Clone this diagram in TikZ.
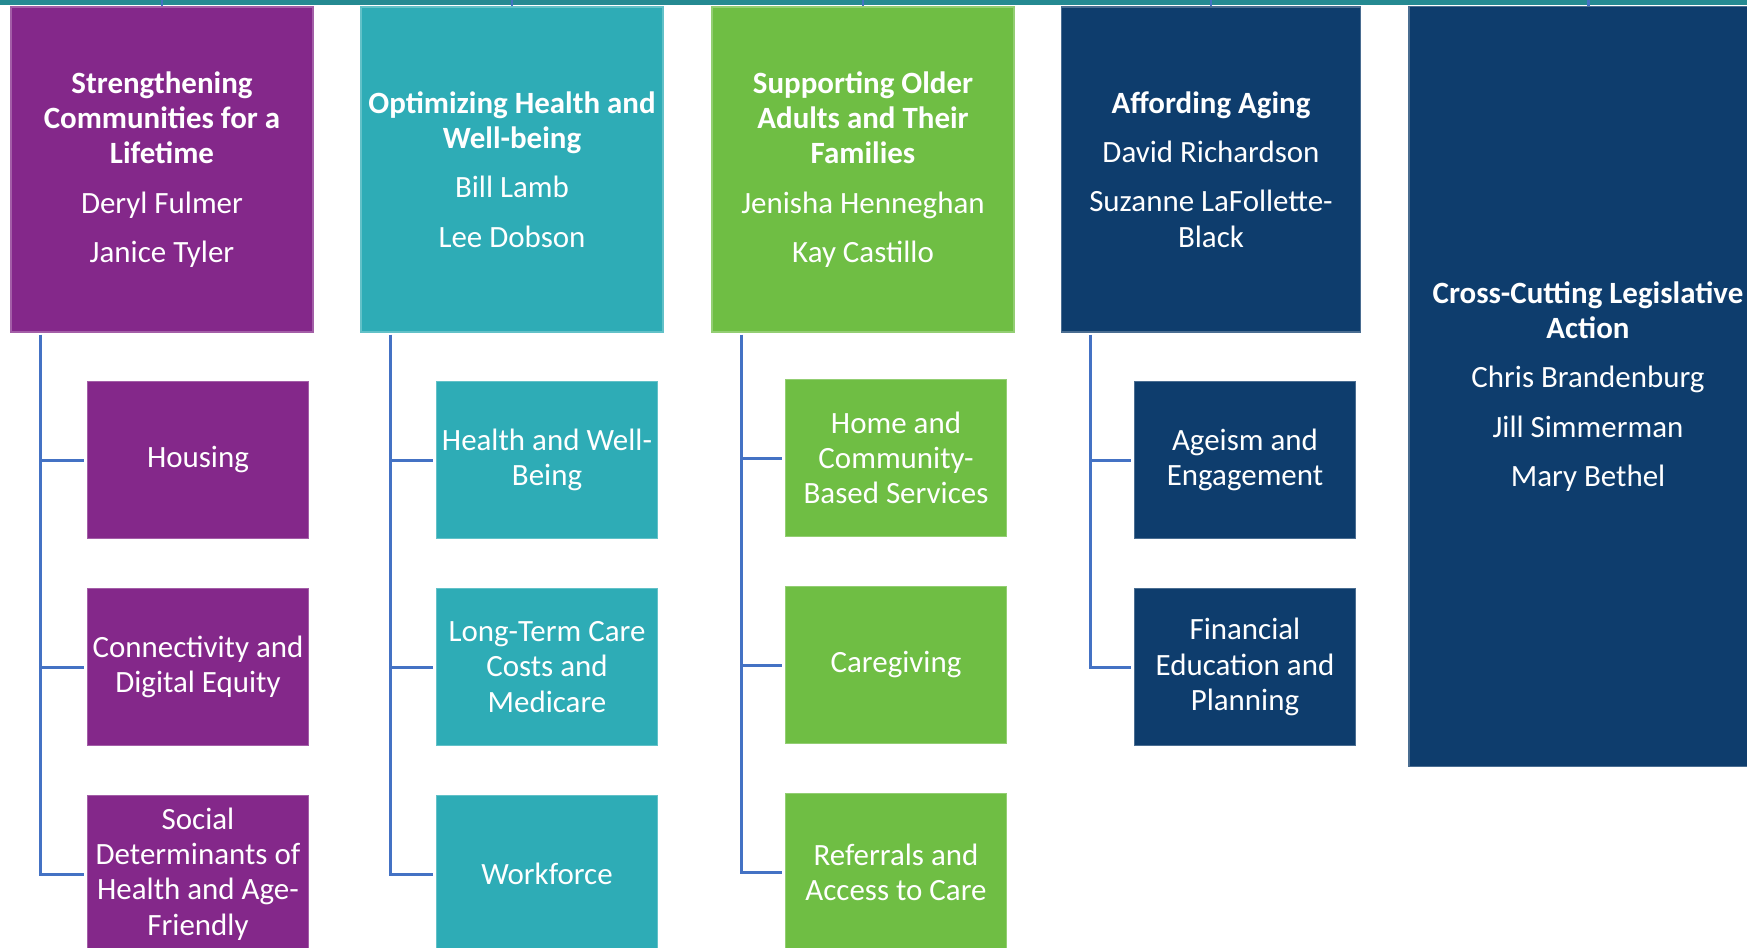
\documentclass[tikz,border=0pt]{standalone}
\usepackage{fontspec}
\setmainfont{Carlito}
\usetikzlibrary{calc}

\definecolor{plum}{HTML}{84288A}
\definecolor{aqua}{HTML}{2EACB6}
\definecolor{leaf}{HTML}{6FBE44}
\definecolor{navy}{HTML}{0E3D6D}
\definecolor{link}{HTML}{4472C4}

\tikzset{
    card/.style={rectangle, fill=#1, draw=#1!75!white, line width=0.4pt, text=white,
        align=center, inner sep=0pt, font=\fontsize{8.8}{10}\selectfont},
    head/.style={card=#1, minimum width=3.02cm, minimum height=3.25cm},
    topic/.style={card=#1, minimum width=2.21cm, minimum height=1.57cm},
    branch/.style={link, line width=0.85pt}
}

\begin{document}
\begin{tikzpicture}[x=0.01cm, y=-0.01cm]
            \useasboundingbox (0,0) rectangle (1747,948);
            \clip (0,0) rectangle (1747,948);

            % committee heads
            \node (comm) at (162,169.5) [head=plum]
                {\textbf{Strengthening}\\\textbf{Communities for a}\\\textbf{Lifetime}\\[4pt]Deryl Fulmer\\[4pt]Janice Tyler};
            \node (health) at (512,169.5) [head=aqua]
                {\textbf{Optimizing Health and}\\\textbf{Well-being}\\[4pt]Bill Lamb\\[4pt]Lee Dobson};
            \node (older) at (863,169.5) [head=leaf]
                {\textbf{Supporting Older}\\\textbf{Adults and Their}\\\textbf{Families}\\[4pt]Jenisha Henneghan\\[4pt]Kay Castillo};
            \node (afford) at (1211,169.5) [head=navy, minimum width=2.99cm]
                {\textbf{Affording Aging}\\[4pt]David Richardson\\[4pt]Suzanne LaFollette-\\Black};
            \node (cross) at (1588,386.5) [head=navy, minimum width=3.58cm, minimum height=7.59cm]
                {\textbf{Cross-Cutting Legislative}\\\textbf{Action}\\[4pt]Chris Brandenburg\\[4pt]Jill Simmerman\\[4pt]Mary Bethel};

            % topics
            \node (housing) at (198,460) [topic=plum] {Housing};
            \node (digital) at (198,667) [topic=plum] {Connectivity and\\Digital Equity};
            \node (social) at (198,874) [topic=plum] {Social\\Determinants of\\Health and Age-\\Friendly};

            \node (wellbeing) at (547,460) [topic=aqua] {Health and Well-\\Being};
            \node (ltc) at (547,667) [topic=aqua] {Long-Term Care\\Costs and\\Medicare};
            \node (workforce) at (547,874) [topic=aqua] {Workforce};

            \node (hcbs) at (896,458) [topic=leaf] {Home and\\Community-\\Based Services};
            \node (caregiving) at (896,665) [topic=leaf] {Caregiving};
            \node (referrals) at (896,872) [topic=leaf] {Referrals and\\Access to Care};

            \node (ageism) at (1245,460) [topic=navy] {Ageism and\\Engagement};
            \node (finance) at (1245,667) [topic=navy] {Financial\\Education and\\Planning};

            % band of the parent above
            \fill [aqua!80!black] (0,0) rectangle (1747,5);
            \foreach \n in {comm,health,older,afford,cross}
                {
                    \draw [branch] (\n.north) -- ++(0,-7);
                }

            \foreach \p/\c in {comm/housing, comm/digital, comm/social,
                    health/wellbeing, health/ltc, health/workforce,
                    older/hcbs, older/caregiving, older/referrals,
                    afford/ageism, afford/finance}
                {
                    \draw [branch] ($(\p.south west) + (30,2)$) |- ($(\c.west) + (-3,0)$);
                }

        \end{tikzpicture}
\end{document}
